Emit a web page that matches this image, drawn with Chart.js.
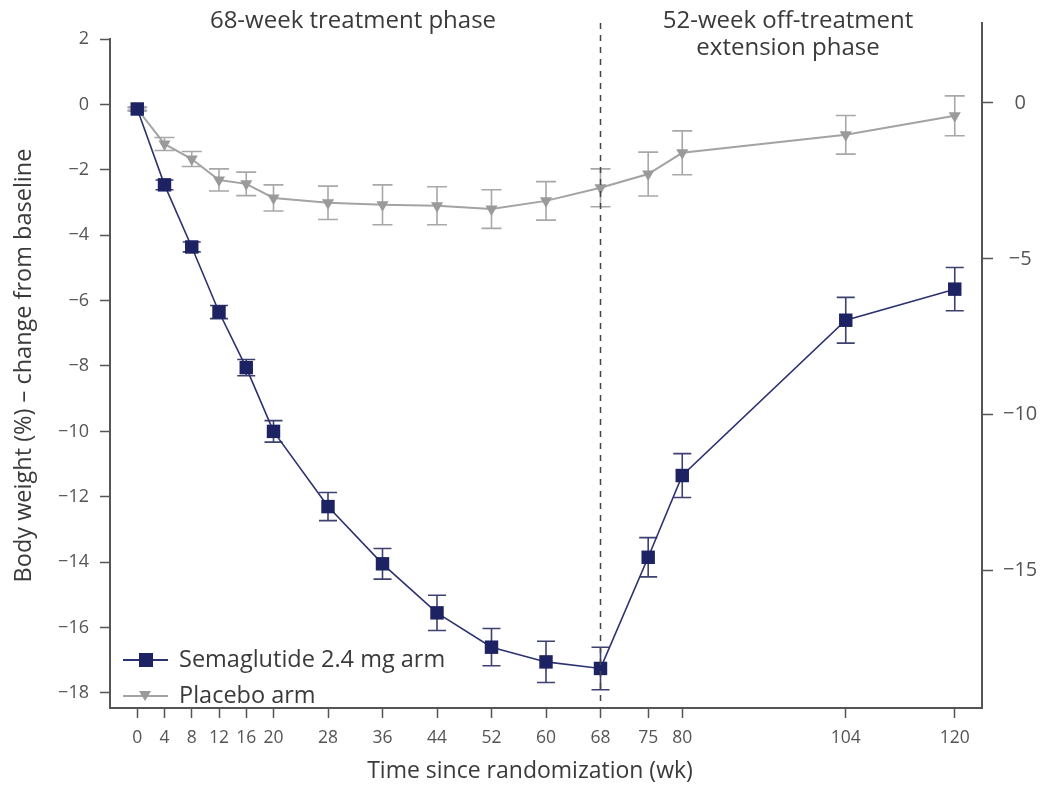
<!DOCTYPE html>
<html lang="en">
<head>
<meta charset="utf-8">
<title>Body weight change from baseline</title>
<style>
  html, body { margin: 0; padding: 0; background: #ffffff; }
  #wrap { width: 1041px; height: 789px; }
</style>
</head>
<body>
<div id="wrap"><canvas id="chart" width="1041" height="789"></canvas></div>
<script src="https://cdn.jsdelivr.net/npm/chart.js@4.4.1/dist/chart.umd.min.js"></script>
<script>
// weeks since randomization
const weeks = [0, 4, 8, 12, 16, 20, 28, 36, 44, 52, 60, 68, 75, 80, 104, 120];

// semaglutide 2.4 mg arm, mean change (%) and error
const semaValues = [-0.14, -2.46, -4.36, -6.35, -8.05, -10.0, -12.3, -14.05, -15.55, -16.6, -17.05, -17.25, -13.85, -11.35, -6.6, -5.65];
const semaErrors = [0.05, 0.15, 0.15, 0.2, 0.25, 0.33, 0.43, 0.47, 0.54, 0.57, 0.63, 0.65, 0.6, 0.67, 0.7, 0.66];

// placebo arm
const placeboValues = [-0.14, -1.21, -1.67, -2.31, -2.43, -2.86, -3.01, -3.07, -3.1, -3.2, -2.95, -2.55, -2.13, -1.48, -0.93, -0.35];
const placeboErrors = [0.05, 0.2, 0.23, 0.34, 0.36, 0.4, 0.51, 0.61, 0.58, 0.59, 0.59, 0.58, 0.67, 0.67, 0.59, 0.61];

const leftTicks = [2, 0, -2, -4, -6, -8, -10, -12, -14, -16, -18];
const rightTicks = [0, -5, -10, -15];

const seriesNames = ["Semaglutide 2.4 mg arm", "Placebo arm"];
const treatmentEnd = 68;

const NAVY = "#1d2262";
const NAVY_LINE = "#2c3270";
const GREY = "#a3a3a3";
const AXIS = "#555555";
const TEXT = "#3a3a3a";
const FONT = "'Open Sans', sans-serif";

const fmt = v => (v < 0 ? "\u2212" + Math.abs(v) : String(v));

// error bars drawn under the markers
const errorBarPlugin = {
  id: "errorBars",
  beforeDatasetsDraw(chart) {
    const ctx = chart.ctx;
    const x = chart.scales.x, y = chart.scales.y;
    chart.data.datasets.forEach(ds => {
      if (!ds.errorBars) return;
      ctx.save();
      ctx.strokeStyle = ds.errorColor;
      ctx.lineWidth = 1.6;
      ds.data.forEach((p, i) => {
        const e = ds.errorBars[i];
        const px = x.getPixelForValue(p.x);
        const y1 = y.getPixelForValue(p.y + e);
        const y2 = y.getPixelForValue(p.y - e);
        const cap = ds.capWidth / 2;
        ctx.beginPath();
        ctx.moveTo(px, y1); ctx.lineTo(px, y2);
        ctx.moveTo(px - cap, y1); ctx.lineTo(px + cap, y1);
        ctx.moveTo(px - cap, y2); ctx.lineTo(px + cap, y2);
        ctx.stroke();
      });
      ctx.restore();
    });
  }
};

// left axis line, week-68 divider, captions and legend
const decorPlugin = {
  id: "decor",
  afterDraw(chart) {
    const ctx = chart.ctx;
    const area = chart.chartArea;
    const x = chart.scales.x, y = chart.scales.y;
    ctx.save();

    ctx.strokeStyle = AXIS;
    ctx.lineWidth = 2;
    ctx.beginPath();
    ctx.moveTo(area.left, y.getPixelForValue(leftTicks[0]) - 1);
    ctx.lineTo(area.left, area.bottom + 1);
    ctx.stroke();

    const dx = x.getPixelForValue(treatmentEnd);
    ctx.strokeStyle = "#444444";
    ctx.lineWidth = 1.5;
    ctx.setLineDash([6, 6]);
    ctx.beginPath();
    ctx.moveTo(dx, area.top);
    ctx.lineTo(dx, area.bottom);
    ctx.stroke();
    ctx.setLineDash([]);

    ctx.fillStyle = TEXT;
    ctx.font = "24px " + FONT;
    ctx.textAlign = "center";
    ctx.textBaseline = "middle";
    ctx.fillText("68-week treatment phase", 353, 21);
    ctx.fillText("52-week off-treatment", 788, 21);
    ctx.fillText("extension phase", 788, 48);

    ctx.font = "23px " + FONT;
    ctx.fillText("Time since randomization (wk)", 530, 771);

    const rows = [660, 696];
    chart.data.datasets.forEach((ds, i) => {
      const ly = rows[i];
      ctx.strokeStyle = ds.borderColor;
      ctx.lineWidth = 2;
      ctx.beginPath();
      ctx.moveTo(123, ly); ctx.lineTo(168, ly);
      ctx.stroke();
      ctx.fillStyle = ds.pointBackgroundColor;
      if (ds.pointStyle === "rect") {
        ctx.fillRect(139, ly - 7, 14, 14);
      } else {
        ctx.beginPath();
        ctx.moveTo(139, ly - 5); ctx.lineTo(151, ly - 5); ctx.lineTo(145, ly + 5);
        ctx.closePath(); ctx.fill();
      }
      ctx.fillStyle = TEXT;
      ctx.font = "23.5px " + FONT;
      ctx.textAlign = "left";
      ctx.fillText(ds.label, 179, ly);
    });
    ctx.restore();
  }
};

const toPoints = vals => weeks.map((w, i) => ({ x: w, y: vals[i] }));

new Chart(document.getElementById("chart"), {
  type: "line",
  plugins: [errorBarPlugin, decorPlugin],
  data: {
    datasets: [
      {
        label: seriesNames[0],
        data: toPoints(semaValues),
        errorBars: semaErrors,
        errorColor: "#3c4170",
        capWidth: 18,
        borderColor: NAVY_LINE,
        borderWidth: 1.6,
        pointStyle: "rect",
        pointRadius: 9.5,
        pointBackgroundColor: NAVY,
        pointBorderColor: NAVY,
        pointBorderWidth: 0
      },
      {
        label: seriesNames[1],
        data: toPoints(placeboValues),
        errorBars: placeboErrors,
        errorColor: "#a8a8a8",
        capWidth: 20,
        borderColor: GREY,
        borderWidth: 2,
        pointStyle: "triangle",
        pointRotation: 180,
        pointRadius: 7,
        pointBackgroundColor: "#9a9a9a",
        pointBorderColor: "#9a9a9a",
        pointBorderWidth: 0
      }
    ]
  },
  options: {
    responsive: false,
    animation: false,
    layout: { padding: { top: 23, left: 0, right: 0, bottom: 0 } },
    plugins: { legend: { display: false }, tooltip: { enabled: false } },
    scales: {
      x: {
        type: "linear",
        min: -4,
        max: 124,
        afterBuildTicks: s => { s.ticks = weeks.map(v => ({ value: v })); },
        afterFit: s => { s.height = 81; },
        grid: { drawOnChartArea: false, tickLength: 10, tickColor: AXIS, tickWidth: 1.5 },
        border: { color: AXIS, width: 2 },
        ticks: { color: "#555", font: { family: FONT, size: 17.5 }, padding: 10, maxRotation: 0, autoSkip: false }
      },
      y: {
        position: "left",
        min: -18.46,
        max: 2.49,
        afterBuildTicks: s => { s.ticks = leftTicks.map(v => ({ value: v })); },
        afterFit: s => { s.width = 110; },
        grid: { drawOnChartArea: false, tickLength: 10, tickColor: AXIS, tickWidth: 1.5 },
        border: { display: false },
        ticks: { color: "#555", font: { family: FONT, size: 18 }, padding: 11, callback: v => fmt(v) },
        title: {
          display: true,
          text: "Body weight (%) \u2013 change from baseline",
          color: TEXT,
          font: { family: FONT, size: 23.5 },
          padding: { top: 10, bottom: 0 }
        }
      },
      y2: {
        position: "right",
        min: -19.4,
        max: 2.56,
        afterBuildTicks: s => { s.ticks = rightTicks.map(v => ({ value: v })); },
        afterFit: s => { s.width = 59; },
        grid: { drawOnChartArea: false, tickLength: 11, tickColor: AXIS, tickWidth: 1.5 },
        border: { color: AXIS, width: 2 },
        ticks: { color: "#555", font: { family: FONT, size: 20 }, padding: 10, crossAlign: "center", callback: v => fmt(v) }
      }
    }
  }
});
</script>
</body>
</html>
